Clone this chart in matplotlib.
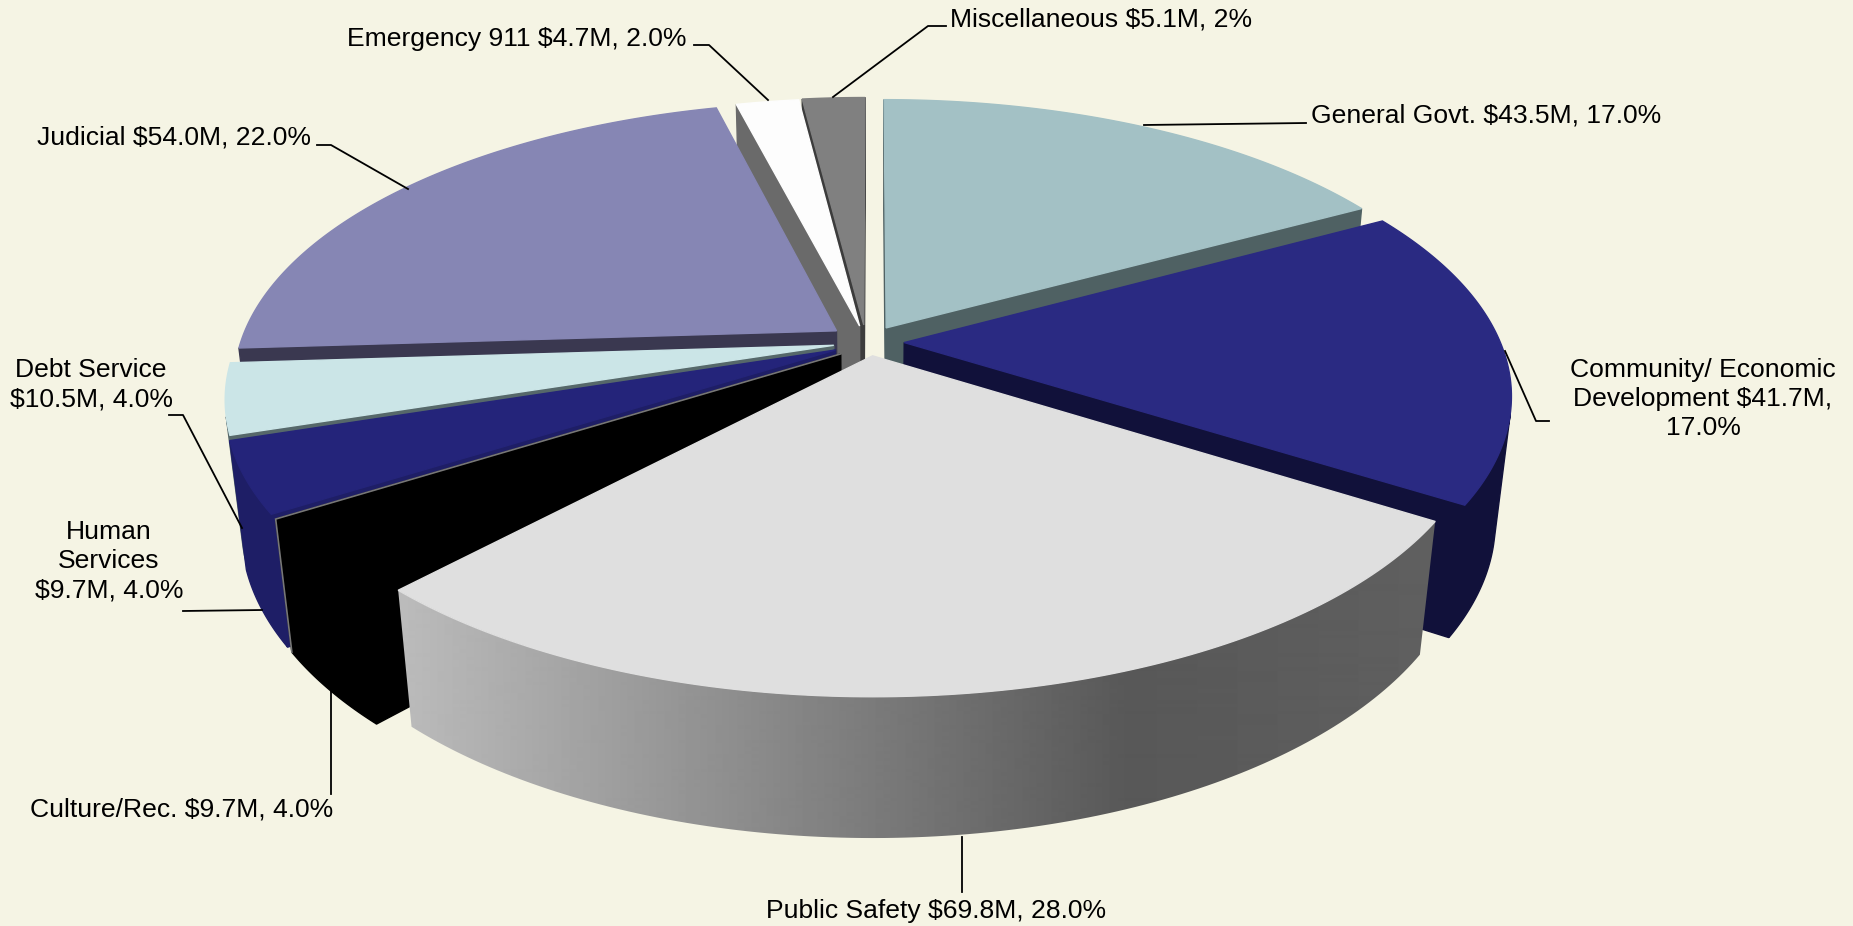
import numpy as np
import matplotlib
matplotlib.use("Agg")
import matplotlib.pyplot as plt

# ---- data ----
categories = ["General Govt.", "Community/ Economic Development", "Public Safety",
              "Culture/Rec.", "Human Services", "Debt Service", "Judicial",
              "Emergency 911", "Miscellaneous"]
amounts = [43.5, 41.7, 69.8, 9.7, 9.7, 10.5, 54.0, 4.7, 5.1]
shares = [17.0, 17.0, 28.0, 4.0, 4.0, 4.0, 22.0, 2.0, 2.0]

# ---- styles ----
top_colors = ["#A3C1C5", "#2A2A82", "#DFDFDF", "#000000", "#24247A",
              "#CBE5E7", "#8686B4", "#FDFDFD", "#808080"]
side_colors = ["#4F6163", "#11113A", "#6E6E6E", "#000000", "#1E1E66",
               "#56686A", "#3A3850", "#6A6A6A", "#3C3C3C"]
explode_x = [0.024, 0.054, 0.001, -0.052, -0.061, -0.064, -0.060, -0.021, -0.014]
explode_y = [0.052, -0.002, -0.050, -0.043, -0.029, -0.012, 0.041, 0.059, 0.063]
BG = "#F5F4E4"

# ---- projection ----
CX, CY, RX, RY, PERSP, DEPTH, PERSP_Z = 872, 342, 596, 274, 0.18, 127, 0.025


def project(wx, wy, d=0.0):
    s = 1.0 / (1.0 + PERSP * wy + PERSP_Z * d)
    return CX + RX * wx * s, CY + (-RY * wy + DEPTH * d) * s


def area(pts):
    p = np.asarray(pts)
    x, y = p[:, 0], p[:, 1]
    return np.sum(x * np.roll(y, -1) - np.roll(x, -1) * y)


fig = plt.figure(figsize=(18.53, 9.26), dpi=100, facecolor=BG)
ax = fig.add_axes([0, 0, 1, 1])


def face(pts, color, zorder=1):
    ax.fill(*zip(*pts), facecolor=color, edgecolor=color, lw=1.0, zorder=zorder)


edges = np.radians(np.concatenate([[0], np.cumsum(shares)]) * 360.0 / np.sum(shares))
mids = (edges[:-1] + edges[1:]) / 2
order = np.argsort(-np.cos(mids))

# horizontal gradient of the Public Safety wall
grad_x = np.linspace(0, 1853, 1853)
grad_g = np.interp(grad_x, [400, 1130, 1440], [0.735, 0.345, 0.375])

for z, i in enumerate(order):
    ex, ey = explode_x[i], explode_y[i]
    th = np.linspace(edges[i], edges[i + 1], 120)
    wx, wy = ex + np.sin(th), ey + np.cos(th)
    top = [project(a, b) for a, b in zip(wx, wy)]
    bot = [project(a, b, 1) for a, b in zip(wx, wy)]
    at, ab = project(ex, ey), project(ex, ey, 1)

    start = [at, top[0], bot[0], ab]
    end = [top[-1], at, ab, bot[-1]]
    for q in (start, end):
        if area(q) < 0:
            face(q, side_colors[i], z)

    vis = [k for k in range(len(th) - 1)
           if area([top[k], top[k + 1], bot[k + 1], bot[k]]) < 0]
    if vis:
        idx = list(range(vis[0], vis[-1] + 2))
        wall = [top[k] for k in idx] + [bot[k] for k in reversed(idx)]
        if categories[i] == "Public Safety":
            im = ax.imshow(grad_g[None, :], cmap="gray", vmin=0, vmax=1, aspect="auto",
                           extent=(0, 1853, 926, 0), zorder=z, interpolation="bilinear")
            patch = plt.Polygon(wall, transform=ax.transData, fc="none", ec="none")
            ax.add_patch(patch)
            im.set_clip_path(patch)
        else:
            face(wall, side_colors[i], z)

    face([at] + top, top_colors[i], z)

    if categories[i] == "Culture/Rec.":
        ax.plot([at[0], top[-1][0], bot[-1][0]], [at[1], top[-1][1], bot[-1][1]],
                color="#777777", lw=1.2, zorder=z, solid_joinstyle="miter")

ax.set_xlim(0, 1853)
ax.set_ylim(926, 0)
ax.axis("off")

# ---- labels ----
font = dict(family="Liberation Sans", fontsize=19.05, color="black", zorder=50,
            linespacing=1.27)
labels = [
    (f"{categories[0]} ${amounts[0]}M, {shares[0]}%", 1311, 116, "left"),
    ("Community/ Economic\nDevelopment $41.7M,\n17.0%", 1703, 399, "center"),
    (f"{categories[2]} ${amounts[2]}M, {shares[2]}%", 936, 911, "center"),
    (f"{categories[3]} ${amounts[3]}M, {shares[3]}%", 30, 810, "left"),
    ("Human\nServices\n$9.7M, 4.0%", 109, 561, "center"),
    ("Debt Service\n$10.5M, 4.0%", 91, 385, "center"),
    (f"{categories[6]} ${amounts[6]}M, {shares[6]}%", 37, 138, "left"),
    (f"{categories[7]} ${amounts[7]}M, {shares[7]}%", 516.5, 39, "center"),
    (f"{categories[8]} ${amounts[8]}M, 2%", 950, 20, "left"),
]
for s, x, y, ha in labels:
    ax.text(x, y, s, ha=ha, va="center", multialignment="center", **font)

leaders = [
    [(694, 45), (709, 45), (768, 100)],
    [(946, 26), (928, 26), (833, 97)],
    [(1306, 123), (1144, 125)],
    [(317, 145), (331, 145), (408, 189)],
    [(169, 415), (183, 415), (242, 528)],
    [(183, 611), (262, 610)],
    [(331, 794), (331, 691)],
    [(962, 892), (962, 837)],
    [(1549, 421), (1536, 421), (1505, 351)],
]
for pts in leaders:
    ax.plot(*zip(*pts), color="black", lw=1.3, zorder=40)

fig.savefig("out.png", dpi=100, facecolor=BG)
